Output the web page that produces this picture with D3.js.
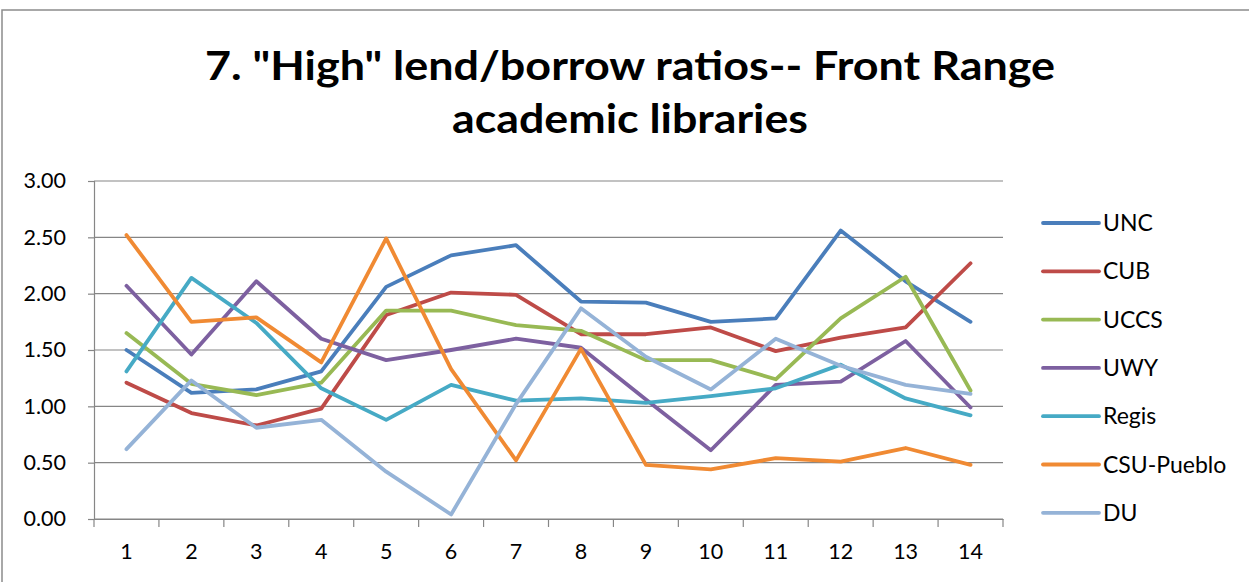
<!DOCTYPE html>
<html><head><meta charset="utf-8">
<script src="https://cdn.jsdelivr.net/npm/d3@7"></script>
<style>
html,body{margin:0;padding:0;background:#fff;}
svg{display:block;font-family:Lato,"Open Sans",sans-serif;}
</style></head>
<body>
<svg id="chart" width="1249" height="582"></svg>
<script>
const categories = [1,2,3,4,5,6,7,8,9,10,11,12,13,14];
const seriesNames = ["UNC","CUB","UCCS","UWY","Regis","CSU-Pueblo","DU"];
const UNC = [1.50,1.12,1.15,1.31,2.06,2.34,2.43,1.93,1.92,1.75,1.78,2.56,2.11,1.75];
const CUB = [1.21,0.94,0.83,0.98,1.81,2.01,1.99,1.64,1.64,1.70,1.49,1.61,1.70,2.27];
const UCCS = [1.65,1.20,1.10,1.21,1.85,1.85,1.72,1.67,1.41,1.41,1.24,1.78,2.15,1.14];
const UWY = [2.07,1.46,2.11,1.60,1.41,1.50,1.60,1.52,1.06,0.61,1.19,1.22,1.58,0.99];
const Regis = [1.31,2.14,1.74,1.16,0.88,1.19,1.05,1.07,1.03,1.09,1.16,1.37,1.07,0.92];
const CSUPueblo = [2.52,1.75,1.79,1.39,2.49,1.33,0.52,1.51,0.48,0.44,0.54,0.51,0.63,0.48];
const DU = [0.62,1.23,0.81,0.88,0.42,0.04,1.02,1.87,1.44,1.15,1.60,1.36,1.19,1.11];
const yTicks = [0,0.5,1,1.5,2,2.5,3];
const colors = ["#4A7EBB","#BE4B48","#98B954","#7D60A0","#46AAC5","#F08A33","#95B3D7"];
const seriesValues = [UNC,CUB,UCCS,UWY,Regis,CSUPueblo,DU];

const svg = d3.select("#chart");
svg.append("rect").attr("x",2).attr("y",10).attr("width",1260).attr("height",600)
  .attr("fill","none").attr("stroke","#8c8c8c").attr("stroke-width",1.5);

svg.append("text").attr("x",630).attr("y",80).attr("text-anchor","middle")
  .attr("font-size",41).attr("font-weight","bold").attr("fill","#000")
  .attr("textLength",850).attr("lengthAdjust","spacingAndGlyphs")
  .text('7. "High" lend/borrow ratios-- Front Range');
svg.append("text").attr("x",630).attr("y",133).attr("text-anchor","middle")
  .attr("font-size",41).attr("font-weight","bold").attr("fill","#000")
  .attr("textLength",356).attr("lengthAdjust","spacingAndGlyphs")
  .text('academic libraries');

const x = d3.scaleBand().domain(categories).range([94,1003]).padding(0);
const y = d3.scaleLinear().domain([0,3]).range([519,181]);

svg.append("g").selectAll("line").data(yTicks).join("line")
  .attr("x1",94).attr("x2",1003).attr("y1",d=>y(d)).attr("y2",d=>y(d))
  .attr("stroke","#868686").attr("stroke-width",1.2);

const yAxis = svg.append("g").attr("transform","translate(94,0)")
  .call(d3.axisLeft(y).tickValues(yTicks).tickFormat(d3.format(".2f")).tickSize(6).tickPadding(22));
yAxis.select(".domain").attr("stroke","#868686").attr("stroke-width",1.2);
yAxis.selectAll(".tick line").attr("stroke","#868686").attr("stroke-width",1.2);
yAxis.selectAll("text").attr("font-size",21.5).attr("fill","#000").attr("font-family","Lato");

const xAxis = svg.append("g").attr("transform","translate(0,519)")
  .call(d3.axisBottom(x).tickSize(0).tickPadding(25));
xAxis.select(".domain").attr("stroke","#868686").attr("stroke-width",1.2);
xAxis.selectAll("text").attr("font-size",21.5).attr("fill","#000").attr("font-family","Lato");
const bounds = categories.map(c=>x(c)).concat([x(14)+x.bandwidth()]);
svg.append("g").selectAll("line").data(bounds).join("line")
  .attr("x1",d=>d).attr("x2",d=>d).attr("y1",519).attr("y2",527)
  .attr("stroke","#868686").attr("stroke-width",1.2);

const line = d3.line().x((d,i)=>x(categories[i])+x.bandwidth()/2).y(d=>y(d));
svg.append("g").selectAll("path").data(seriesValues).join("path")
  .attr("d",d=>line(d)).attr("fill","none")
  .attr("stroke",(d,i)=>colors[i]).attr("stroke-width",3.8)
  .attr("stroke-linejoin","round").attr("stroke-linecap","round");

const lg = svg.append("g").selectAll("g").data(seriesNames).join("g")
  .attr("transform",(d,i)=>`translate(1043,${223+i*48.3})`);
lg.append("line").attr("x1",0).attr("x2",56).attr("y1",0).attr("y2",0)
  .attr("stroke",(d,i)=>colors[i]).attr("stroke-width",3.8).attr("stroke-linecap","round");
lg.append("text").attr("x",60).attr("y",8).attr("font-size",23).attr("fill","#000").text(d=>d);
</script>
</body></html>
